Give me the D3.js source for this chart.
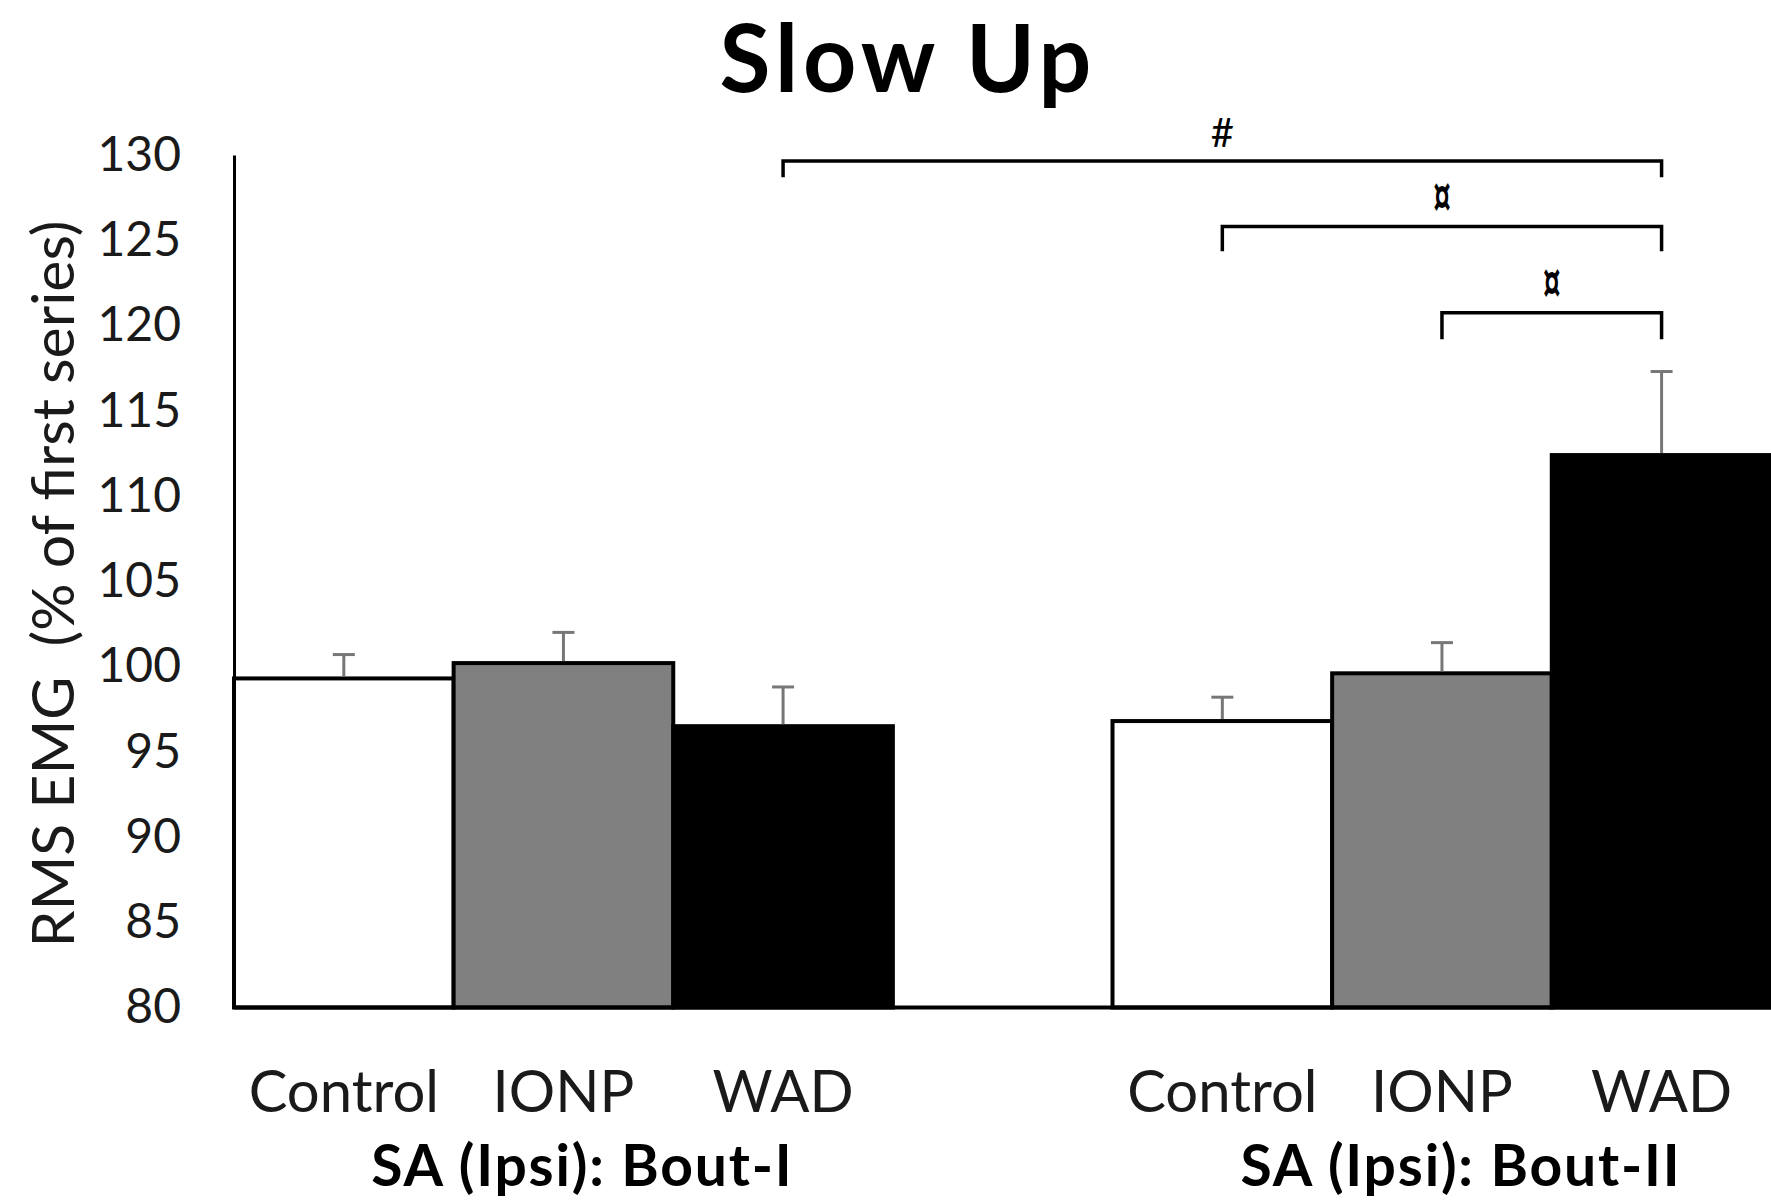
<!DOCTYPE html>
<html>
<head>
<meta charset="utf-8">
<script src="https://cdn.jsdelivr.net/npm/d3@7"></script>
<style>
  html, body { margin: 0; padding: 0; background: #fff; }
  svg { display: block; font-family: Lato, Carlito, "Open Sans", sans-serif; }
</style>
</head>
<body>
<svg id="chart" width="1771" height="1201"></svg>
<script>
// Groups (bouts) and treatment series
const groups = ["SA (Ipsi): Bout-I", "SA (Ipsi): Bout-II"];
const series = ["Control", "IONP", "WAD"];

// Mean RMS EMG (% of first series) per series, one entry per group
const controlMean = [99.3, 96.8];
const ionpMean    = [100.2, 99.6];
const wadMean     = [96.5, 112.4];

// Upper error (SE) per series, one entry per group
const controlErr = [1.4, 1.4];
const ionpErr    = [1.8, 1.8];
const wadErr     = [2.3, 4.9];

const yTicks = [80, 85, 90, 95, 100, 105, 110, 115, 120, 125, 130];

// Significance brackets: which bars they join, bracket height (axis units), symbol
const sigFrom  = [[0, "WAD"], [1, "Control"], [1, "IONP"]];
const sigTo    = [[1, "WAD"], [1, "WAD"], [1, "WAD"]];
const sigLevel = [129.65, 125.8, 120.75];
const sigDrop  = [0.95, 1.45, 1.55];
const sigLabel = ["#", "\u00A4", "\u00A4"];

const fills = { Control: "#ffffff", IONP: "#808080", WAD: "#000000" };

const means = { Control: controlMean, IONP: ionpMean, WAD: wadMean };
const errs  = { Control: controlErr, IONP: ionpErr, WAD: wadErr };

const rows = [];
groups.forEach((g, gi) => series.forEach(s => rows.push({ gi, group: g, series: s, value: means[s][gi], err: errs[s][gi] })));

const svg = d3.select("#chart");

const x0 = d3.scaleBand().domain(d3.range(groups.length)).range([234, 1771.4]).paddingInner(0.25).paddingOuter(0);
const x1 = d3.scaleBand().domain(series).range([0, x0.bandwidth()]).padding(0);
const y = d3.scaleLinear().domain([80, 130]).range([1007.5, 155]);

const cx = (gi, s) => x0(gi) + x1(s) + x1.bandwidth() / 2;

// Title
svg.append("text")
  .attr("x", 908).attr("y", 92)
  .attr("text-anchor", "middle")
  .attr("font-weight", 700).attr("font-size", 93)
  .attr("letter-spacing", 5)
  .attr("fill", "#000")
  .text("Slow Up");

// Bars
svg.append("g").selectAll("rect").data(rows).join("rect")
  .attr("x", d => x0(d.gi) + x1(d.series))
  .attr("y", d => y(d.value))
  .attr("width", x1.bandwidth())
  .attr("height", d => y(80) - y(d.value))
  .attr("fill", d => fills[d.series])
  .attr("stroke", "#000")
  .attr("stroke-width", 4);

// Error bars (upper only)
const eb = svg.append("g").attr("stroke", "#777").attr("stroke-width", 3);
eb.selectAll("line.v").data(rows).join("line").attr("class", "v")
  .attr("x1", d => cx(d.gi, d.series)).attr("x2", d => cx(d.gi, d.series))
  .attr("y1", d => y(d.value) - 2).attr("y2", d => y(d.value + d.err));
eb.selectAll("line.c").data(rows).join("line").attr("class", "c")
  .attr("x1", d => cx(d.gi, d.series) - 11).attr("x2", d => cx(d.gi, d.series) + 11)
  .attr("y1", d => y(d.value + d.err)).attr("y2", d => y(d.value + d.err));

// Y axis
const yAxis = svg.append("g")
  .attr("transform", "translate(234,0)")
  .call(d3.axisLeft(y).tickValues(yTicks).tickSize(0).tickSizeOuter(0).tickPadding(53));
yAxis.select(".domain").attr("stroke", "#000").attr("stroke-width", 3);
yAxis.selectAll("text").attr("font-size", 48).attr("fill", "#1a1a1a").attr("font-family", "Lato, Carlito, sans-serif");

// Baseline across the plot
svg.append("line")
  .attr("x1", 234).attr("x2", 1771)
  .attr("y1", y(80)).attr("y2", y(80))
  .attr("stroke", "#000").attr("stroke-width", 4);

// Y axis title
svg.append("text")
  .attr("transform", "translate(74,584) rotate(-90)")
  .attr("text-anchor", "middle")
  .attr("font-size", 59).attr("fill", "#1a1a1a")
  .attr("xml:space", "preserve")
  .text("RMS EMG  (% of first series)");

// Category labels
svg.append("g").selectAll("text").data(rows).join("text")
  .attr("x", d => cx(d.gi, d.series))
  .attr("y", 1112)
  .attr("text-anchor", "middle")
  .attr("font-size", 58).attr("fill", "#1a1a1a")
  .text(d => d.series);

// Group labels
svg.append("g").selectAll("text").data(groups).join("text")
  .attr("x", (d, i) => x0(i) + x0.bandwidth() / 2 + 19)
  .attr("y", 1186)
  .attr("text-anchor", "middle")
  .attr("font-size", 57).attr("font-weight", 700).attr("letter-spacing", 1.8).attr("fill", "#000")
  .text(d => d);

// Significance brackets
const sig = svg.append("g");
sigLevel.forEach((lv, i) => {
  const xa = cx(sigFrom[i][0], sigFrom[i][1]);
  const xb = cx(sigTo[i][0], sigTo[i][1]);
  const yl = y(lv), yd = y(lv - sigDrop[i]);
  sig.append("path")
    .attr("d", `M${xa},${yd}V${yl}H${xb}V${yd}`)
    .attr("fill", "none").attr("stroke", "#000").attr("stroke-width", 3.5);
  const isHash = sigLabel[i] === "#";
  sig.append("text")
    .attr("transform", `translate(${(xa + xb) / 2},${yl - (isHash ? 14 : 10)}) scale(${isHash ? "1,1" : "0.75,1.35"})`)
    .attr("text-anchor", "middle")
    .attr("font-size", isHash ? 40 : 44).attr("font-weight", isHash ? 400 : 700).attr("fill", "#000")
    .text(sigLabel[i]);
});
</script>
</body>
</html>
